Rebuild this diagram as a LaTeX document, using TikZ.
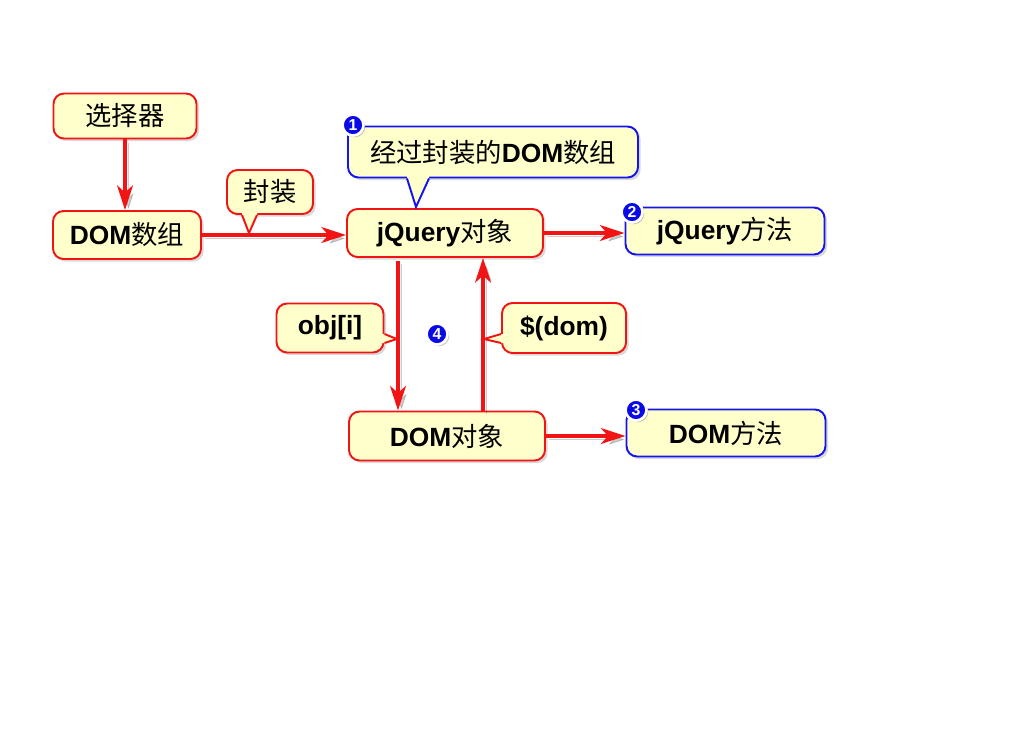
\documentclass[tikz,border=0pt]{standalone}
\usepackage{fontspec}
\setmainfont{Liberation Sans}
\newfontfamily\cjk{Noto Sans CJK SC}
\usetikzlibrary{arrows.meta,shadows}
\newcommand{\px}{0.02cm}
\newcommand{\zh}[1]{{\cjk\mdseries #1}}
\definecolor{boxfill}{HTML}{FFFFCC}
\definecolor{redline}{HTML}{F21414}
\definecolor{blueline}{HTML}{1414F2}
\definecolor{badgefill}{HTML}{0A0AE6}
\tikzset{
  redbox/.style = {draw=redline, line width=1.1pt, fill=boxfill, rounded corners=6pt,
                   inner sep=0pt, font=\bfseries\fontsize{15}{18}\selectfont,
                   drop shadow={shadow xshift=1.5pt, shadow yshift=-1.5pt, opacity=0.3}},
  bluebox/.style = {redbox, draw=blueline},
  redarrow/.style = {draw=redline, line width=2pt,
                     -{Stealth[length=14pt,width=9pt,inset=4pt]},
                     preaction={draw=black, opacity=0.2,
                                transform canvas={xshift=2pt, yshift=-2pt}}},
  tipline/.style = {line width=1.1pt, line join=miter},
  badge/.style = {circle, fill=badgefill, draw=white, line width=1.5pt, inner sep=0pt,
                  minimum size=0.42cm, text=white, font=\bfseries\fontsize{9}{9}\selectfont,
                  drop shadow={shadow xshift=1pt, shadow yshift=-1pt, opacity=0.45}}
}

\begin{document}
\begin{tikzpicture}[x=\px, y=-\px]
  \useasboundingbox (0,0) rectangle (1024,728);

  % boxes
  \node[redbox, minimum width=143*\px, minimum height=45*\px] (sel) at (125,116) {\zh{选择器}};
  \node[redbox, minimum width=148*\px, minimum height=48*\px] (domarr) at (127,235) {DOM\zh{数组}};
  \node[redbox, minimum width=196*\px, minimum height=48*\px] (jq) at (445,233) {jQuery\zh{对象}};
  \node[redbox, minimum width=196*\px, minimum height=49*\px] (dobj) at (447,436) {DOM\zh{对象}};
  \node[bluebox, minimum width=199*\px, minimum height=47*\px] (jqm) at (725,231) {jQuery\zh{方法}};
  \node[bluebox, minimum width=199*\px, minimum height=47*\px] (domm) at (726,433) {DOM\zh{方法}};

  % arrows
  \draw[redarrow] (sel.south) -- (sel.south |- domarr.north);
  \draw[redarrow] (domarr.east) -- (domarr.east -| jq.west);
  \draw[redarrow] (jq.east) -- (jq.east -| jqm.west);
  \draw[redarrow] (dobj.east) -- (dobj.east -| domm.west);
  \draw[redarrow] ([xshift=-47*\px, yshift=-3*\px]jq.south) -- ([xshift=-49*\px]dobj.north);
  \draw[redarrow] ([xshift=36*\px]dobj.north) -- ([xshift=38*\px]jq.south);

  % callouts
  \coordinate (fztip) at (249,233);
  \coordinate (wraptip) at (416,207);
  \coordinate (objtip) at (397,339);
  \coordinate (doltip) at (484,339);

  \node[redbox, minimum width=86*\px, minimum height=44*\px] (fz) at (270,192) {\zh{封装}};
  \fill[boxfill] ([xshift=-28*\px, yshift=1.5pt]fz.south) -- ([xshift=-28*\px]fz.south) -- (fztip)
    -- ([xshift=-13*\px]fz.south) -- ([xshift=-13*\px, yshift=1.5pt]fz.south) -- cycle;
  \draw[redline, tipline] ([xshift=-28*\px]fz.south) -- (fztip) -- ([xshift=-13*\px]fz.south);

  \node[bluebox, minimum width=290*\px, minimum height=51*\px] (wrap) at (493,152) {\zh{经过封装的}DOM\zh{数组}};
  \fill[boxfill] ([xshift=-86*\px, yshift=1.5pt]wrap.south) -- ([xshift=-86*\px]wrap.south) -- (wraptip)
    -- ([xshift=-64*\px]wrap.south) -- ([xshift=-64*\px, yshift=1.5pt]wrap.south) -- cycle;
  \draw[blueline, tipline] ([xshift=-86*\px]wrap.south) -- (wraptip) -- ([xshift=-64*\px]wrap.south);

  \node[redbox, minimum width=107*\px, minimum height=49*\px] (obj) at (330,328) {obj[i]};
  \fill[boxfill] ([xshift=-1.5pt, yshift=-6*\px]obj.east) -- ([yshift=-6*\px]obj.east) -- (objtip)
    -- ([yshift=-15*\px]obj.east) -- ([xshift=-1.5pt, yshift=-15*\px]obj.east) -- cycle;
  \draw[redline, tipline] ([yshift=-6*\px]obj.east) -- (objtip) -- ([yshift=-15*\px]obj.east);

  \node[redbox, minimum width=124*\px, minimum height=50*\px] (dol) at (564,328) {\$(dom)};
  \fill[boxfill] ([xshift=1.5pt, yshift=-6*\px]dol.west) -- ([yshift=-6*\px]dol.west) -- (doltip)
    -- ([yshift=-15*\px]dol.west) -- ([xshift=1.5pt, yshift=-15*\px]dol.west) -- cycle;
  \draw[redline, tipline] ([yshift=-6*\px]dol.west) -- (doltip) -- ([yshift=-15*\px]dol.west);

  % badges
  \node[badge] (b1) at (353,125) {1};
  \node[badge] (b2) at (632,212) {2};
  \node[badge] (b3) at (636,410) {3};
  \node[badge] (b4) at (437,334) {4};
\end{tikzpicture}
\end{document}
